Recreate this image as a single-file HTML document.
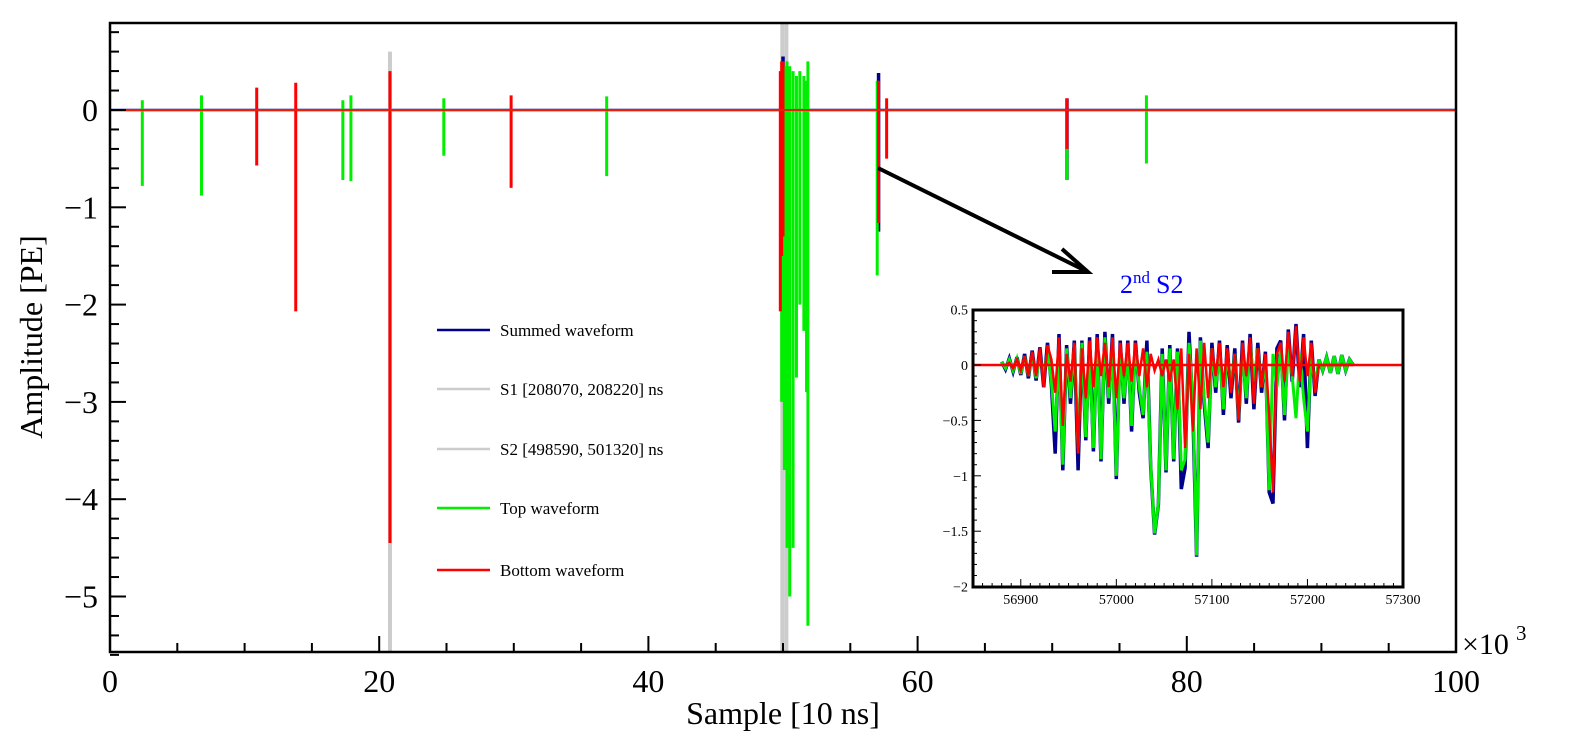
<!DOCTYPE html>
<html><head><meta charset="utf-8"><style>
body{margin:0;background:#fff}
svg{display:block;font-family:"Liberation Serif",serif}
</style></head><body>
<svg id="chart" width="1576" height="754" viewBox="0 0 1576 754">
<defs><clipPath id="mainclip"><rect x="110" y="23" width="1346" height="629"/></clipPath>
<clipPath id="insetclip"><rect x="973" y="310" width="430" height="277"/></clipPath></defs>
<g id="main" clip-path="url(#mainclip)"></g>
<g id="axes"></g>
<g id="inset"></g>
</svg>
<script>
// ---- main chart data (x in 10^3 samples, amplitudes in PE) ----
const greyX   = [20.8, 49.95, 50.25];
const greyMin = [-5.6, -5.6, -5.6];
const greyMax = [0.6, 0.9, 0.9];
const blueX   = [50.0, 57.1, 71.1];
const blueMin = [-2.3, -1.25, -0.72];
const blueMax = [0.55, 0.38, 0.12];
const greenX   = [2.4, 6.8, 17.3, 17.9, 24.8, 36.9, 49.9, 50.1, 50.3, 50.5, 50.75, 51.0, 51.25, 51.55, 51.75, 51.85, 57.0, 71.1, 77.0];
const greenMin = [-0.78, -0.88, -0.72, -0.73, -0.47, -0.68, -3.0, -3.7, -4.5, -5.0, -4.5, -2.75, -2.0, -2.27, -2.9, -5.3, -1.7, -0.72, -0.55];
const greenMax = [0.1, 0.15, 0.1, 0.15, 0.12, 0.14, 0.4, 0.45, 0.5, 0.45, 0.4, 0.35, 0.4, 0.35, 0.3, 0.5, 0.3, 0.05, 0.15];
const redX   = [10.9, 13.8, 20.8, 29.8, 49.8, 49.9, 50.0, 57.1, 57.7, 71.1];
const redMin = [-0.57, -2.07, -4.45, -0.8, -2.07, -1.5, -1.3, -1.16, -0.5, -0.4];
const redMax = [0.23, 0.28, 0.4, 0.15, 0.4, 0.5, 0.5, 0.3, 0.12, 0.12];
const xTicks = [0, 20, 40, 60, 80, 100];
const yTicks = [0, -1, -2, -3, -4, -5];
const legendLabels = ["Summed waveform", "S1 [208070, 208220] ns", "S2 [498590, 501320] ns", "Top waveform", "Bottom waveform"];
// ---- inset data (sample index, amplitude) ----
const insetStart = 56880, insetStep = 4;
const insetTop = [0.03,-0.03,0.05,-0.05,0.06,-0.08,0.08,-0.1,0.1,-0.12,0.08,-0.1,0.12,-0.15,-0.6,0.1,-0.9,0.15,-0.3,0.18,-0.75,0.2,-0.65,0.1,-0.75,0.2,-0.85,0.25,-0.3,0.15,-1.0,0.1,-0.3,0.12,-0.55,0.15,-0.2,-0.45,0.12,-0.9,-1.52,-1.25,0.1,-0.95,0.15,-0.85,0.12,-0.95,-0.85,0.2,-0.3,-1.72,0.22,-0.3,-0.7,0.15,-0.2,0.1,-0.4,0.12,-0.2,0.1,-0.48,0.12,-0.3,0.2,-0.15,0.15,-0.2,0.05,-1.13,0.1,-0.2,0.15,-0.45,0.15,-0.1,-0.48,0.1,-0.3,-0.6,0.1,-0.2,0.05,-0.05,0.07,-0.07,0.08,-0.08,0.09,-0.05,0.05,0];
const insetBottom = [0,0,0.02,-0.03,0.05,-0.05,0.08,-0.1,0.12,-0.1,0.15,-0.2,0.18,0.05,-0.25,0.25,-0.55,0.1,-0.15,0.2,-0.8,0.15,-0.3,0.22,-0.2,0.25,-0.1,0.2,-0.2,0.25,-0.3,0.2,-0.1,0.2,-0.15,0.2,-0.1,0.15,-0.2,0.1,-0.05,0.05,-0.1,0.05,-0.15,0.05,-0.4,0.15,-0.75,0.1,-0.6,0.15,-0.4,0.2,-0.3,0.15,-0.1,0.2,-0.2,0.15,-0.25,0.1,-0.5,0.2,-0.1,0.25,-0.35,0.15,-0.2,0.1,-0.45,-1.15,0.1,0.2,-0.15,0.3,-0.1,0.35,-0.15,0.25,-0.1,0.2,-0.25,0,0,0,0,0,0,0,0,0,0];
const insetSum = [0.03,-0.04,0.06,-0.06,0.07,-0.09,0.1,-0.12,0.13,-0.14,0.16,-0.2,0.2,-0.18,-0.8,0.28,-0.95,0.18,-0.35,0.22,-0.95,0.22,-0.68,0.25,-0.78,0.28,-0.87,0.3,-0.35,0.28,-1.03,0.22,-0.35,0.22,-0.6,0.22,-0.25,-0.48,0.22,-0.92,-1.53,-1.26,0.15,-0.97,0.18,-0.87,0.15,-1.12,-0.93,0.3,-0.4,-1.73,0.25,-0.35,-0.75,0.2,-0.25,0.22,-0.45,0.18,-0.3,0.15,-0.52,0.22,-0.35,0.28,-0.4,0.2,-0.25,0.12,-1.15,-1.25,0.15,0.22,-0.5,0.32,-0.15,0.37,-0.2,0.28,-0.75,0.22,-0.28,0.05,-0.05,0.07,-0.07,0.08,-0.08,0.09,-0.05,0.05,0];
const insetXTicks = [56900, 57000, 57100, 57200, 57300];
const insetYTicks = [0.5, 0, -0.5, -1, -1.5, -2];

const NS = "http://www.w3.org/2000/svg";
function mk(tag, attrs, parent, text){const e=document.createElementNS(NS,tag);for(const k in attrs)e.setAttribute(k,attrs[k]);if(text!==undefined)e.textContent=text;parent.appendChild(e);return e;}
const X = v => 110 + v * 13.46;
const Y = v => 110 - v * 97.3;
const main = document.getElementById('main');
const axes = document.getElementById('axes');
const inset = document.getElementById('inset');

function spikes(xs, mins, maxs, color, w, name){
  xs.forEach((x,i)=>{
    const l = mk('line',{x1:X(x),x2:X(x),y1:Y(maxs[i]),y2:Y(mins[i]),stroke:color,'stroke-width':w},main);
    
    
  });
}
let b = mk('line',{x1:110,x2:1456,y1:Y(0),y2:Y(0),stroke:'#00008b','stroke-width':2.5},main);


spikes(greyX, greyMin, greyMax, '#cccccc', 4, 'grey-spike');
spikes(blueX, blueMin, blueMax, '#00008b', 3.5, 'blue-spike');
spikes(greenX, greenMin, greenMax, '#00ee00', 3, 'green-spike');
spikes(redX, redMin, redMax, '#ff0000', 3, 'red-spike');
let rb = mk('line',{x1:110,x2:1456,y1:Y(0),y2:Y(0),stroke:'#e8200a','stroke-width':2},main);



let fr = mk('rect',{x:110,y:23,width:1346,height:629,fill:'none',stroke:'#000','stroke-width':2.5},axes);


for(let v=0; v<=100; v+=5){
  const major = v%20===0;
  mk('line',{x1:X(v),x2:X(v),y1:652,y2:652-(major?16:9),stroke:'#000','stroke-width':2},axes);
}
xTicks.forEach(v=>{
  const t = mk('text',{x:X(v),y:692,'font-size':32,'text-anchor':'middle'},axes,String(v));
  
  
});
for(let k=-28; k<=4; k++){
  const v=k/5; const major = k%5===0;
  mk('line',{x1:110,x2:110+(major?16:9),y1:Y(v),y2:Y(v),stroke:'#000','stroke-width':2},axes);
}
yTicks.forEach(v=>{
  const t = mk('text',{x:98,y:Y(v)+11,'font-size':32,'text-anchor':'end'},axes,v===0?'0':'\u2212'+Math.abs(v));
  
  
});
let xt = mk('text',{x:783,y:724,'font-size':32,'text-anchor':'middle'},axes,'Sample [10 ns]');


let yt = mk('text',{x:0,y:0,'font-size':32,'text-anchor':'middle',transform:'translate(42,337) rotate(-90)'},axes,'Amplitude [PE]');


let ex = mk('text',{x:1462,y:654,'font-size':30},axes,'\u00d710');


mk('text',{x:1516,y:640,'font-size':21},axes,'3');

const legColors = ['#00008b','#cccccc','#cccccc','#00ee00','#ff0000'];
const legY = [330, 389, 449, 508, 570];
legendLabels.forEach((s,i)=>{
  const g = mk('g',{},axes);
  
  
  mk('line',{x1:437,x2:490,y1:legY[i],y2:legY[i],stroke:legColors[i],'stroke-width':2.5},g);
  mk('text',{x:500,y:legY[i]+6,'font-size':17},g,s);
});

let ar = mk('g',{stroke:'#000','stroke-width':4,fill:'none'},axes);


mk('line',{x1:878,y1:168,x2:1086,y2:271},ar);
mk('polyline',{points:'1062,249 1088,272 1052,272'},ar);
let lab = mk('text',{x:1120,y:293,'font-size':26,fill:'#0000ff'},axes,'2');


mk('tspan',{dy:-10,'font-size':17},lab,'nd');
mk('tspan',{dy:10,dx:6},lab,'S2');

const IX = v => 973 + (v-56850)*430/450;
const IY = v => 365 - v*110.8;
mk('rect',{x:973,y:310,width:430,height:277,fill:'#fff'},inset);
const ig = mk('g',{'clip-path':'url(#insetclip)'},inset);
function poly(arr,color,w,name){
  const pts = arr.map((v,i)=>IX(insetStart+i*insetStep).toFixed(1)+','+IY(v).toFixed(1)).join(' ');
  const p = mk('polyline',{points:pts,fill:'none',stroke:color,'stroke-width':w,'stroke-linejoin':'miter'},ig);
  
  
}
poly(insetSum,'#00008b',3.5,'inset-summed-line');
poly(insetTop,'#00ee00',3,'inset-top-line');
let ib = mk('line',{x1:973,x2:1403,y1:IY(0),y2:IY(0),stroke:'#ff0000','stroke-width':2.5},ig);


poly(insetBottom,'#ff0000',2.5,'inset-bottom-line');
let ifr = mk('rect',{x:973,y:310,width:430,height:277,fill:'none',stroke:'#000','stroke-width':3},inset);


for(let v=56850; v<=57300; v+=10){
  const major=v%100===0;
  mk('line',{x1:IX(v),x2:IX(v),y1:587,y2:587-(major?8:4),stroke:'#000','stroke-width':1},inset);
}
insetXTicks.forEach(v=>{
  const t=mk('text',{x:IX(v),y:604,'font-size':14,'text-anchor':'middle'},inset,String(v));
  
  
});
for(let k=-20;k<=5;k++){
  const v=k/10; const major=k%5===0;
  mk('line',{x1:973,x2:973+(major?8:4),y1:IY(v),y2:IY(v),stroke:'#000','stroke-width':1},inset);
}
insetYTicks.forEach(v=>{
  const s = v===0?'0':(v<0?'\u2212'+Math.abs(v):String(v));
  const t=mk('text',{x:968,y:IY(v)+5,'font-size':14,'text-anchor':'end'},inset,s);
  
  
});
</script>
</body></html>
